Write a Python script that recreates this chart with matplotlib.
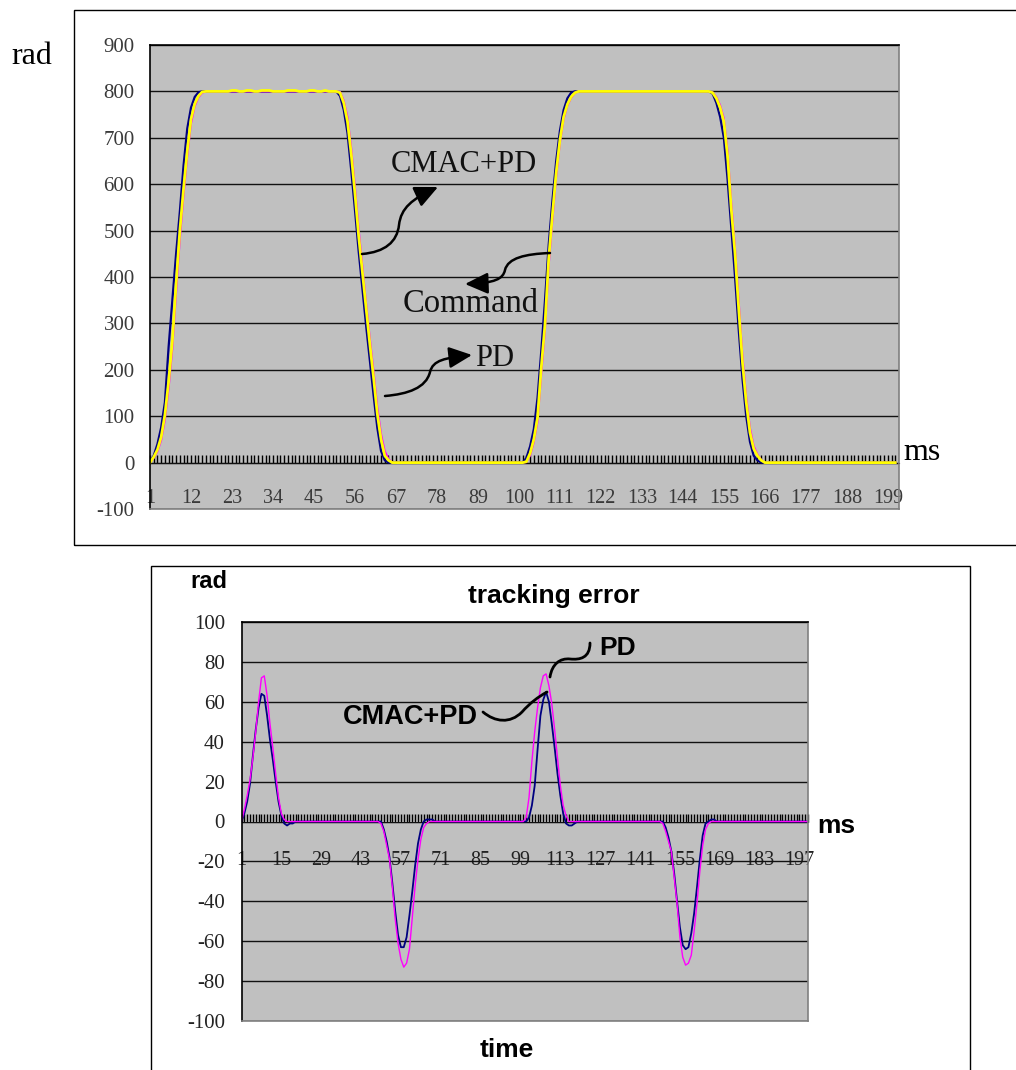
import numpy as np
import matplotlib
matplotlib.use("Agg")
import matplotlib.pyplot as plt
from matplotlib.patches import Rectangle, FancyArrowPatch
from matplotlib.path import Path

W, H = 1016, 1070
SERIF = "Liberation Serif"
SANS = "Liberation Sans"

# ---- top chart: position (rad) per sample, 201 samples ----
top_cmac_pd = ([0, 15, 40, 76, 130, 250, 350, 450, 540, 640, 720, 765, 788, 798]
               + [800] * 37
               + [790, 760, 710, 630, 545, 455, 375, 295, 220, 145, 75, 25, 5]
               + [0] * 37
               + [10, 35, 72, 140, 240, 350, 470, 565, 650, 715, 760, 785, 797]
               + [800] * 37
               + [795, 775, 745, 700, 610, 505, 400, 285, 180, 100, 45, 15, 5]
               + [0] * 37)

top_command = ([0, 12, 28, 55, 103, 175, 262, 385, 499, 590, 672, 740, 773, 790, 799, 800]
               + [800, 800, 800, 800, 800, 800, 802, 802, 800, 800, 802, 802, 800, 800, 802, 802, 802, 800,
                  800, 800, 800, 802, 802, 802, 800, 800, 800, 802, 802, 800, 800, 802, 800, 800, 800]
               + [797, 775, 735, 665, 580, 488, 410, 330, 255, 183, 105, 50, 15, 5, 0]
               + [0] * 35
               + [2, 20, 50, 97, 205, 298, 440, 535, 625, 695, 745, 772, 788, 797, 800]
               + [800] * 35
               + [797, 785, 765, 735, 660, 545, 450, 330, 215, 130, 65, 30, 15, 5, 0]
               + [0] * 35)

top_pd = ([0, 10, 24, 48, 92, 160, 245, 365, 480, 575, 660, 730, 768, 787, 797, 800]
          + [800] * 35
          + [799, 780, 745, 678, 595, 503, 423, 343, 268, 197, 120, 62, 25, 8, 0]
          + [0] * 35
          + [1, 15, 44, 88, 190, 285, 425, 522, 615, 688, 740, 769, 786, 796, 800]
          + [800] * 35
          + [798, 788, 770, 742, 672, 560, 463, 345, 230, 142, 75, 36, 18, 6, 0]
          + [0] * 35)

top_xticks = list(range(1, 200, 11))
top_yticks = list(range(-100, 901, 100))

# ---- bottom chart: tracking error (rad) per sample, 200 samples ----
err_cmac_pd = ([0, 4, 10, 19, 33, 46, 57, 64, 63, 53, 41, 31, 20, 10, 3, -1, -2, -1, -1, 0]
               + [0] * 29
               + [0, -4, -10, -18, -31, -45, -57, -63, -63, -58, -47, -35, -22, -11, -4, 0, 1, 1, 1, 0, 0]
               + [0] * 30
               + [0, 2, 8, 18, 36, 53, 61, 65, 60, 49, 37, 24, 13, 4, -1, -2, -2, -1, 0]
               + [0] * 29
               + [0, -3, -8, -15, -26, -40, -53, -62, -64, -63, -56, -46, -33, -19, -7, -1, 0, 1, 1, 0]
               + [0] * 32)

err_pd = ([0, 6, 13, 21, 32, 45, 60, 72, 73, 63, 49, 37, 24, 12, 4, 1, 0]
          + [0] * 32
          + [-1, -5, -12, -19, -33, -49, -61, -69, -73, -71, -64, -48, -32, -19, -9, -3, -1, 0]
          + [0] * 33
          + [2, 12, 30, 45, 57, 67, 73, 74, 68, 59, 46, 32, 18, 8, 3, 0]
          + [0] * 32
          + [-1, -5, -10, -15, -28, -41, -58, -68, -72, -71, -67, -55, -41, -25, -12, -4, -1, 0]
          + [0] * 34)

bot_xticks = list(range(1, 198, 14))
bot_yticks = list(range(-100, 101, 20))


def box(x0, y0, x1, y1):
    return [x0 / W, 1 - y1 / H, (x1 - x0) / W, (y1 - y0) / H]


def px(x, y):
    return (x / W, 1 - y / H)


def style_axes(ax, ncat, xticks, yticks, zero_frac, font, tick_color, xsize, ysize, ypad, xpad):
    cats = np.arange(1, ncat + 1)
    ax.set_facecolor("#c0c0c0")
    ax.set_ylim(yticks[0], yticks[-1])
    ax.set_xticks([])
    ax.set_yticks(yticks, labels=[str(v) for v in yticks], family=font, fontsize=ysize, color=tick_color)
    ax.tick_params(axis="y", length=0, pad=ypad)
    ax.yaxis.grid(True, color="#111111", lw=1)
    ax.set_axisbelow(True)
    ax.spines["left"].set_color("black")
    ax.spines["top"].set_color("black")
    ax.spines["right"].set_color("#808080")
    ax.spines["bottom"].set_color("#808080")
    for s in ax.spines.values():
        s.set_linewidth(1.2)
    # category axis crossing at y = 0 with a tick for every sample
    sec = ax.secondary_xaxis(zero_frac)
    sec.set_alignment("bottom")
    sec.set_xticks(xticks, labels=[str(v) for v in xticks], family=font, fontsize=xsize, color=tick_color)
    sec.set_xticks(cats, minor=True)
    sec.tick_params(which="both", direction="in", length=6, width=1, color="black", pad=xpad)
    sec.spines["bottom"].set_color("black")
    return cats


def curve(points, head=True, lw=1.8):
    verts = [px(*p) for p in points]
    codes = [Path.MOVETO] + [Path.CURVE4] * (len(verts) - 1)
    style = "-|>,head_length=14,head_width=6.5" if head else "-"
    fig.add_artist(FancyArrowPatch(path=Path(verts, codes), arrowstyle=style, mutation_scale=1,
                                   lw=lw, color="black", transform=fig.transFigure))


def label(x, y, s, **kw):
    fig.text(x / W, 1 - y / H, s, ha="center", va="center", **kw)


fig = plt.figure(figsize=(W / 100, H / 100), dpi=100)

# chart frames
fig.add_artist(Rectangle(px(74, 545), (1040 - 74) / W, (545 - 10) / H, transform=fig.transFigure,
                         fill=False, ec="black", lw=1))
fig.add_artist(Rectangle(px(151, 1090), (970 - 151) / W, (1090 - 566) / H, transform=fig.transFigure,
                         fill=False, ec="black", lw=1))

# ---- top chart ----
ax1 = fig.add_axes(box(150, 45, 899, 509))
x1 = style_axes(ax1, len(top_command), top_xticks, top_yticks, 0.1, SERIF, "#3a3a3a", 14.5, 15, 11, 19)
ax1.set_xlim(1, len(top_command) + 1)
ax1.plot(x1, top_cmac_pd, color="#000080", lw=1.6)
ax1.plot(x1, top_pd, color="#ff00ff", lw=1.4)
ax1.plot(x1, top_command, color="#ffff00", lw=2.0)

label(32, 57, "rad", family=SERIF, fontsize=23)
fig.text(903 / W, 1 - 453 / H, "ms", ha="left", va="center", family=SERIF, fontsize=23)
label(464, 165, "CMAC+PD", family=SERIF, fontsize=22, color="#111111")
label(471, 304, "Command", family=SERIF, fontsize=23.5, color="#111111")
label(495, 359, "PD", family=SERIF, fontsize=22, color="#111111")

curve([(362, 254), (385, 252), (397, 242), (399, 225), (401, 208), (412, 199), (438, 187)])
curve([(550, 253), (525, 254), (508, 258), (505, 270), (503, 279), (495, 283), (465, 284)])
curve([(385, 396), (408, 394), (426, 388), (430, 372), (433, 360), (445, 358), (472, 355)])

# ---- bottom chart ----
ax2 = fig.add_axes(box(241.5, 622, 808, 1021))
x2 = style_axes(ax2, len(err_pd), bot_xticks, bot_yticks, 0.5, SERIF, "#222222", 14.5, 15, 12, 21)
ax2.set_xlim(1, len(err_pd))
ax2.plot(x2, err_cmac_pd, color="#000080", lw=1.3)
ax2.plot(x2, err_pd, color="#ff00ff", lw=1.0)

label(209, 582, "rad", family=SANS, fontsize=17, fontweight="bold")
label(554, 596, "tracking error", family=SANS, fontsize=19, fontweight="bold")
label(410, 717, "CMAC+PD", family=SANS, fontsize=19.5, fontweight="bold")
label(618, 648, "PD", family=SANS, fontsize=19, fontweight="bold")
label(836, 826, "ms", family=SANS, fontsize=19, fontweight="bold")
label(507, 1050, "time", family=SANS, fontsize=19, fontweight="bold")

curve([(483, 712), (495, 722), (510, 724), (522, 712), (530, 703), (538, 697), (547, 692)], head=False, lw=2)
curve([(550, 677), (552, 664), (560, 658), (570, 659), (580, 660), (590, 658), (590, 643)], head=False, lw=2)

fig.savefig("out.png", dpi=100)
